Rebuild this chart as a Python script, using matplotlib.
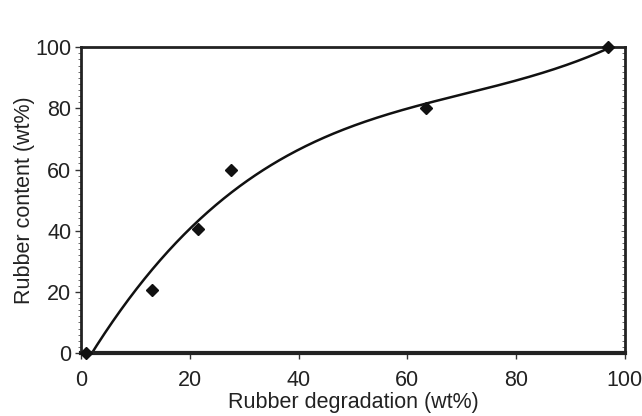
import numpy as np
import matplotlib
matplotlib.use("Agg")
import matplotlib.pyplot as plt
from matplotlib.ticker import MultipleLocator

plt.rcParams['font.family'] = ['Liberation Sans', 'DejaVu Sans']

degradation = [1.0, 13.0, 21.5, 27.5, 63.5, 97.0]
content = [0.0, 20.5, 40.5, 60.0, 80.0, 100.0]

fig = plt.figure(figsize=(6.42, 4.16), dpi=100)
ax = fig.add_axes([0.1262, 0.1514, 0.847, 0.735])

coef = np.polyfit(degradation, content, 3)
xs = np.linspace(0, 97, 400)
ax.plot(xs, np.polyval(coef, xs), color='#111111', lw=1.8, zorder=2)
ax.plot(degradation, content, linestyle='none', marker='D', ms=6.5,
        color='#111111', zorder=3, clip_on=False)

ax.set_xlim(0, 100)
ax.set_ylim(0, 100)
ax.xaxis.set_major_locator(MultipleLocator(20))
ax.yaxis.set_major_locator(MultipleLocator(20))
ax.yaxis.set_minor_locator(MultipleLocator(2))
ax.tick_params(axis='both', which='major', labelsize=15.5, length=4, width=1,
               color='#333333', labelcolor='#222222', direction='out')
ax.tick_params(axis='y', which='minor', length=2.5, width=0.6, color='#555555',
               left=True, direction='out')
ax.tick_params(axis='x', which='major', pad=8)
ax.tick_params(axis='y', which='major', pad=3)
for s in ax.spines.values():
    s.set_linewidth(2.0)
    s.set_color('#222222')
ax.spines['bottom'].set_linewidth(3.0)

# inward minor ticks on the right spine
sec = ax.secondary_yaxis('right')
sec.yaxis.set_major_locator(MultipleLocator(20))
sec.yaxis.set_minor_locator(MultipleLocator(2))
sec.tick_params(which='both', direction='in', labelright=False, width=0.6,
                color='#555555')
sec.tick_params(which='major', length=3)
sec.tick_params(which='minor', length=2)
sec.spines['right'].set_visible(False)

ax.set_xlabel('Rubber degradation (wt%)', fontsize=15.5, color='#222222', labelpad=1)
ax.set_ylabel('Rubber content (wt%)', fontsize=15.5, color='#222222', labelpad=0)

fig.savefig('out.png', dpi=100)
